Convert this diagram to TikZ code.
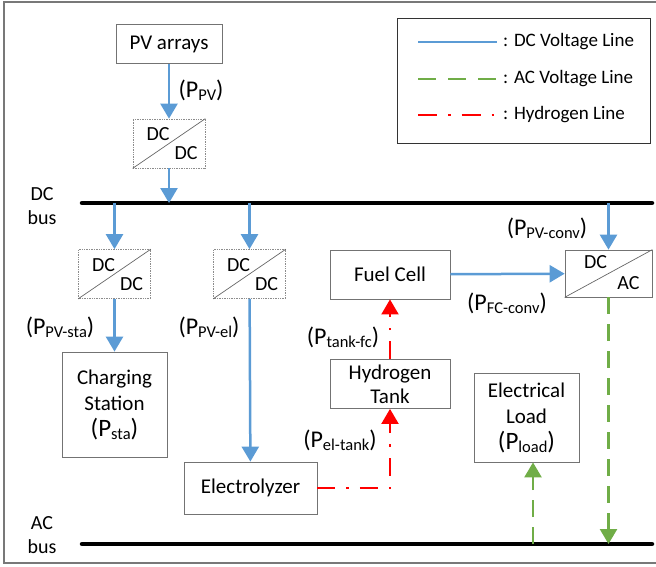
\documentclass[tikz,border=0pt]{standalone}
\usepackage{fontspec}
\setmainfont{Carlito}
\usetikzlibrary{arrows.meta}
\definecolor{dcblue}{RGB}{91,155,213}
\definecolor{acgreen}{RGB}{112,173,71}
\definecolor{framegray}{RGB}{120,120,120}
\newcommand{\psub}[1]{\raisebox{-3pt}{\fontsize{16.5}{16.5}\selectfont #1}}

\begin{document}
\begin{tikzpicture}[x=1pt, y=-1pt,
  box/.style={
    draw=black!55, line width=0.8pt,
    align=center, font=\fontsize{21}{25}\selectfont,
    inner sep=0pt
  },
  conv/.style={
    draw=black!45, densely dotted, line width=0.7pt,
    minimum width=72pt, minimum height=49pt, inner sep=0pt
  },
  cvtxt/.style={font=\fontsize{20}{20}\selectfont, inner sep=0pt},
  diag/.style={draw=black!60, line width=0.7pt},
  pow/.style={font=\fontsize{24}{26}\selectfont, inner sep=0pt},
  bus/.style={line width=4.5pt, line cap=round},
  tip/.style={-{Triangle[width=17pt,length=15pt]}},
  dcline/.style={draw=dcblue, line width=2.5pt, tip},
  acline/.style={draw=acgreen, line width=2.5pt, dash pattern=on 17pt off 10pt, tip},
  hline/.style={draw=red, line width=2pt, dash pattern=on 18pt off 11pt on 2.5pt off 11pt, tip}
]
\useasboundingbox (0,0) rectangle (656,566);
\clip (0,0) rectangle (656,566);
\draw[framegray, line width=1.5pt] (4,2) rectangle (670,563);

% --- buses ---
\coordinate (dcL) at (82,203);
\coordinate (dcR) at (652,203);
\coordinate (acL) at (82,544);
\coordinate (acR) at (652,544);
\draw[bus] (dcL) -- (dcR);
\draw[bus] (acL) -- (acR);
\node[box, draw=none, font=\fontsize{20}{24}\selectfont] (dclab) at (42,206) {DC\\bus};
\node[box, draw=none, font=\fontsize{20}{24}\selectfont] (aclab) at (42,535) {AC\\bus};

% --- blocks ---
\node[box, minimum width=106pt, minimum height=39pt] (pv) at (169,44) {PV arrays};
\node[box, minimum width=105pt, minimum height=105pt, font=\fontsize{21}{26}\selectfont] (sta) at (114.5,404.5)
  {Charging\\Station\\{\fontsize{25}{26}\selectfont(P\psub{sta})}};
\node[box, minimum width=133pt, minimum height=52pt] (ely) at (250.5,488) {Electrolyzer};
\node[box, minimum width=120pt, minimum height=49pt] (fc) at (390,274.5) {Fuel Cell};
\node[box, minimum width=120pt, minimum height=49pt, font=\fontsize{21}{24}\selectfont] (tank) at (390,384) {Hydrogen\\Tank};
\node[box, minimum width=105pt, minimum height=89pt, font=\fontsize{21}{26}\selectfont] (load) at (526.5,417.5)
  {Electrical\\Load\\{\fontsize{25}{26}\selectfont(P\psub{load})}};

% --- converters ---
\foreach \n/\x/\y in {cv/169/143.5, cvsta/114.5/274, cvel/249.5/274} {
  \node[conv] (\n) at (\x,\y) {};
  \draw[diag] (\n.south west) -- (\n.north east);
  \node[cvtxt] at ([xshift=-11pt, yshift=9pt]\n.center) {DC};
  \node[cvtxt] at ([xshift=17pt, yshift=-10pt]\n.center) {DC};
}
\node[conv, solid, draw=black!55, minimum width=87pt, minimum height=47pt] (inv) at (608.5,273.5) {};
\draw[diag] (inv.south west) -- (inv.north east);
\node[cvtxt] at ([xshift=-13pt, yshift=11pt]inv.center) {DC};
\node[cvtxt] at ([xshift=20pt, yshift=-10pt]inv.center) {AC};

% --- DC voltage lines ---
\draw[dcline] (pv) -- (cv);
\draw[dcline] (cv) -- (cv.south |- dcL);
\draw[dcline] (cvsta.north |- dcL) -- (cvsta);
\draw[dcline] (cvel.north |- dcL) -- (cvel);
\draw[dcline] (cvsta) -- (sta);
\draw[dcline] (cvel) -- (ely);
\draw[dcline] (inv.north |- dcL) -- (inv);
\draw[dcline] (fc) -- (inv);

% --- AC voltage lines ---
\draw[acline] (inv) -- (inv.south |- acL);
\coordinate (ldfoot) at (533,544);
\draw[acline] (ldfoot) -- (ldfoot |- load.south);

% --- hydrogen lines ---
\coordinate (hcorner) at (tank.south |- ely.east);
\draw[hline] (ely.east) -- (hcorner) -- (tank.south);
\draw[hline] (tank) -- (fc);

% --- power labels ---
\node[pow] (ppv) at (201,90) {(P\psub{PV})};
\node[pow] (ppvsta) at (60,327) {(P\psub{PV-sta})};
\node[pow] (ppvel) at (209,327) {(P\psub{PV-el})};
\node[pow] (ptankfc) at (343,337) {(P\psub{tank-fc})};
\node[pow] (peltank) at (340,440) {(P\psub{el-tank})};
\node[pow] (pfcconv) at (507,303) {(P\psub{FC-conv})};
\node[pow] (ppvconv) at (547,228) {(P\psub{PV-conv})};

% --- legend ---
\node[draw=black!80, line width=0.8pt, minimum width=253pt, minimum height=125pt, inner sep=0pt] (leg) at (523.5,80.5) {};
\foreach \st/\txt/\y [count=\i] in {dcblue/DC Voltage Line/42, acgreen/AC Voltage Line/79, red/Hydrogen Line/115} {
  \coordinate (la\i) at (418,\y);
  \coordinate (lb\i) at (497,\y);
  \node[anchor=west, inner sep=0pt, font=\fontsize{19}{20}\selectfont] (lt\i) at (503,\y) {: \txt};
}
\draw[dcblue, line width=2pt] (la1) -- (lb1);
\draw[acgreen, line width=2.5pt, dash pattern=on 18pt off 12pt] (la2) -- (lb2);
\draw[red, line width=2pt, dash pattern=on 19pt off 11pt on 2.5pt off 11pt] (la3) -- (lb3);
\end{tikzpicture}
\end{document}
